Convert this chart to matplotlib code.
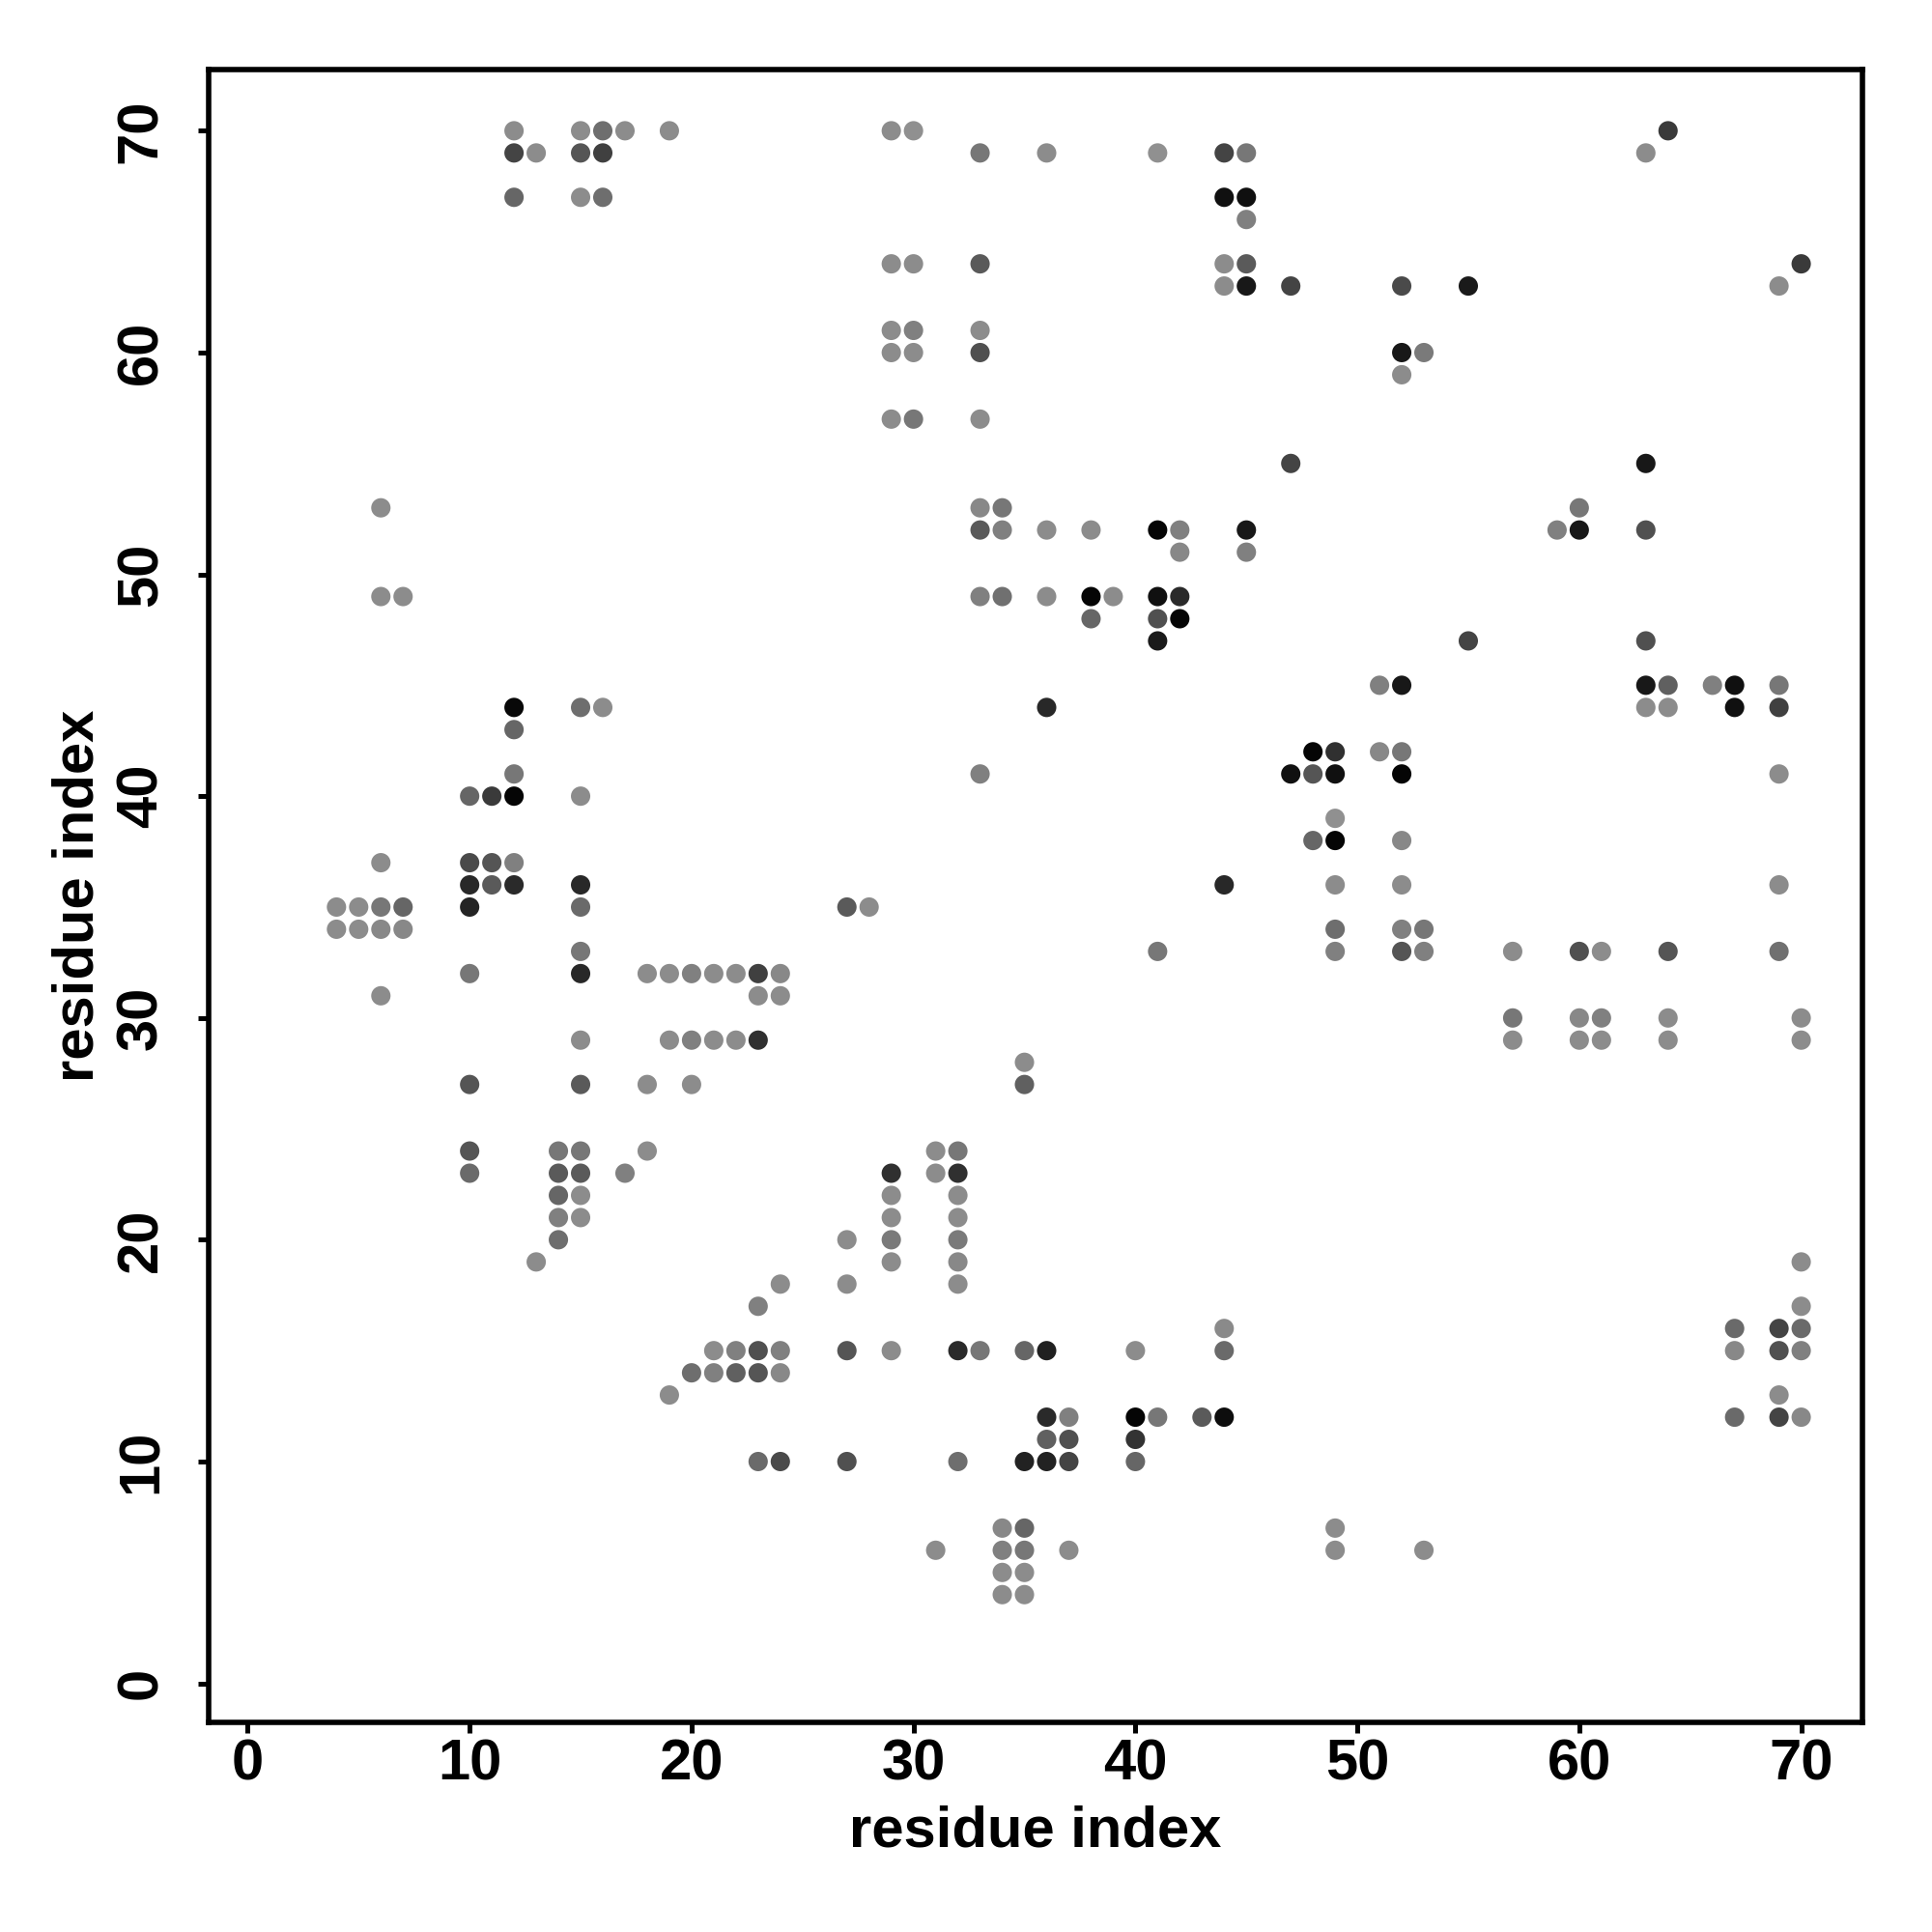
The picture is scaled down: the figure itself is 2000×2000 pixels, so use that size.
import matplotlib
matplotlib.use("Agg")
import matplotlib.pyplot as plt
import numpy as np

# contact map: residue i, residue j, grey level of the dot (0 = black, 255 = white)
res_i = [
    12, 15, 16, 17, 19, 29, 30, 64,                      # j=70
    12, 13, 15, 16, 33, 36, 41, 44, 45, 63,              # j=69
    12, 15, 16, 44, 45,                                  # j=67
    45,                                                  # j=66
    29, 30, 33, 44, 45, 70,                              # j=64
    44, 45, 47, 52, 55, 69,                              # j=63
    29, 30, 33,                                          # j=61
    29, 30, 33, 52, 53,                                  # j=60
    52,                                                  # j=59
    29, 30, 33,                                          # j=57
    47, 63,                                              # j=55
    6, 33, 34, 60,                                       # j=53
    33, 34, 36, 38, 41, 42, 45, 59, 60, 63,              # j=52
    42, 45,                                              # j=51
    6, 7, 33, 34, 36, 38, 39, 41, 42,                    # j=49
    38, 41, 42,                                          # j=48
    41, 55, 63,                                          # j=47
    51, 52, 63, 64, 66, 67, 69,                          # j=45
    12, 15, 16, 36, 63, 64, 67, 69,                      # j=44
    12,                                                  # j=43
    48, 49, 51, 52,                                      # j=42
    12, 33, 47, 48, 49, 52, 69,                          # j=41
    10, 11, 12, 15,                                      # j=40
    49,                                                  # j=39
    48, 49, 52,                                          # j=38
    6, 10, 11, 12,                                       # j=37
    10, 11, 12, 15, 44, 49, 52, 69,                      # j=36
    4, 5, 6, 7, 10, 15, 27, 28,                          # j=35
    4, 5, 6, 7, 49, 52, 53,                              # j=34
    15, 41, 49, 52, 53, 57, 60, 61, 64, 69,              # j=33
    10, 15, 18, 19, 20, 21, 22, 23, 24,                  # j=32
    6, 23, 24,                                           # j=31
    57, 60, 61, 64, 70,                                  # j=30
    15, 19, 20, 21, 22, 23, 57, 60, 61, 64, 70,          # j=29
    35,                                                  # j=28
    10, 15, 18, 20, 35,                                  # j=27
    10, 14, 15, 18, 31, 32,                              # j=24
    10, 14, 15, 17, 29, 31, 32,                          # j=23
    14, 15, 29, 32,                                      # j=22
    14, 15, 29, 32,                                      # j=21
    14, 27, 29, 32,                                      # j=20
    13, 29, 32, 70,                                      # j=19
    24, 27, 32,                                          # j=18
    23, 70,                                              # j=17
    44, 67, 69, 70,                                      # j=16
    21, 22, 23, 24, 27, 29, 32, 33, 35, 36, 40, 44, 67, 69, 70,  # j=15
    20, 21, 22, 23, 24,                                  # j=14
    19, 69,                                              # j=13
    36, 37, 40, 41, 43, 44, 67, 69, 70,                  # j=12
    36, 37, 40,                                          # j=11
    23, 24, 27, 32, 35, 36, 37, 40,                      # j=10
    34, 35, 49,                                          # j=7
    31, 34, 35, 37, 49, 53,                              # j=6
    34, 35,                                              # j=5
    34, 35,                                              # j=4
]

res_j = (
    [70] * 8 + [69] * 10 + [67] * 5 + [66] * 1 + [64] * 6 + [63] * 6
    + [61] * 3 + [60] * 5 + [59] * 1 + [57] * 3 + [55] * 2 + [53] * 4
    + [52] * 10 + [51] * 2 + [49] * 9 + [48] * 3 + [47] * 3 + [45] * 7
    + [44] * 8 + [43] * 1 + [42] * 4 + [41] * 7 + [40] * 4 + [39] * 1
    + [38] * 3 + [37] * 4 + [36] * 8 + [35] * 8 + [34] * 7 + [33] * 10
    + [32] * 9 + [31] * 3 + [30] * 5 + [29] * 11 + [28] * 1 + [27] * 5
    + [24] * 6 + [23] * 7 + [22] * 4 + [21] * 4 + [20] * 4 + [19] * 4
    + [18] * 3 + [17] * 2 + [16] * 4 + [15] * 15 + [14] * 5 + [13] * 2
    + [12] * 9 + [11] * 3 + [10] * 8 + [7] * 3 + [6] * 6 + [5] * 2 + [4] * 2
)

shade = [
    140, 140, 110, 140, 140, 140, 144, 58,
    68, 140, 85, 64, 119, 140, 144, 68, 119, 140,
    102, 140, 110, 16, 16,
    128,
    140, 140, 90, 140, 90, 58,
    140, 24, 68, 74, 26, 140,
    140, 128, 140,
    140, 140, 80, 24, 122,
    140,
    140, 119, 140,
    68, 24,
    140, 136, 119, 119,
    90, 128, 140, 140, 5, 128, 24, 128, 24, 80,
    136, 128,
    140, 140, 128, 112, 140, 5, 140, 16, 42,
    102, 80, 5,
    26, 68, 80,
    128, 24, 24, 96, 128, 16, 119,
    8, 110, 140, 40, 140, 140, 16, 64,
    102,
    5, 48, 136, 119,
    119, 128, 16, 85, 16, 5, 140,
    102, 58, 5, 140,
    144,
    102, 5, 136,
    140, 74, 85, 128,
    40, 90, 42, 40, 40, 140, 140, 140,
    140, 140, 119, 102, 36, 106, 90, 140,
    140, 140, 136, 136, 110, 128, 119,
    119, 119, 128, 85, 128, 140, 80, 140, 85, 112,
    119, 40, 140, 140, 128, 140, 140, 64, 136,
    140, 140, 140,
    119, 136, 128, 140, 140,
    140, 140, 128, 140, 140, 48, 140, 140, 140, 140, 140,
    140,
    85, 90, 140, 140, 96,
    85, 119, 119, 140, 140, 119,
    106, 90, 90, 128, 48, 140, 48,
    102, 140, 140, 140,
    128, 140, 140, 140,
    110, 140, 122, 122,
    140, 140, 136, 140,
    140, 140, 140,
    128, 140,
    138, 106, 68, 106,
    140, 128, 80, 128, 85, 140, 42, 119, 102, 32, 140, 106, 136, 80, 128,
    110, 128, 96, 85, 136,
    140, 140,
    42, 128, 5, 119, 90, 13, 106, 68, 136,
    96, 80, 51,
    106, 74, 80, 110, 34, 34, 68, 102,
    136, 102, 140,
    140, 128, 119, 140, 140, 140,
    140, 140,
    140, 140,
]

ticks = [0, 10, 20, 30, 40, 50, 60, 70]

plt.rcParams['font.family'] = ['Liberation Sans', 'DejaVu Sans']
plt.rcParams['font.weight'] = 'bold'

fig = plt.figure(figsize=(10, 10), dpi=200)
ax = fig.add_axes([0.108, 0.1085, 0.856, 0.8555])

cols = [(g / 255, g / 255, g / 255) for g in shade]
ax.scatter(res_i, res_j, s=52, c=cols, edgecolors='none')

ax.set_xlim(-1.76, 72.76)
ax.set_ylim(-1.76, 72.76)
ax.set_xticks(ticks)
ax.set_yticks(ticks)
ax.set_xticklabels([str(t) for t in ticks], fontsize=21.5, fontweight='bold')
ax.set_yticklabels([str(t) for t in ticks], fontsize=21.5, fontweight='bold',
                   rotation=90, va='center')
ax.tick_params(axis='both', length=4, width=1.8, direction='out')
ax.tick_params(axis='x', pad=2)
ax.tick_params(axis='y', pad=11)
for sp in ax.spines.values():
    sp.set_linewidth(2.0)

ax.set_xlabel('residue index', fontsize=21.5, fontweight='bold', labelpad=5)
ax.set_ylabel('residue index', fontsize=21.5, fontweight='bold', labelpad=4)

fig.savefig('out.png', dpi=200)
